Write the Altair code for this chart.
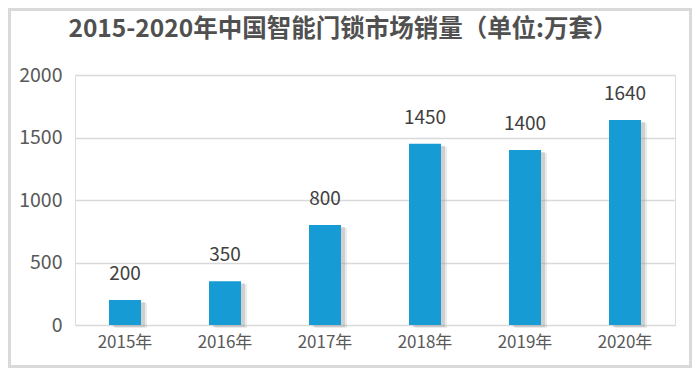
import altair as alt
import pandas as pd

years = ["2015年", "2016年", "2017年", "2018年", "2019年", "2020年"]
sales = [200, 350, 800, 1450, 1400, 1640]
y_ticks = [0, 500, 1000, 1500, 2000]
title_text = "2015-2020年中国智能门锁市场销量（单位:万套）"

df = pd.DataFrame({"year": years, "sales": sales})

FONT = "Noto Sans CJK SC"
BAR = "#169bd5"

x_enc = alt.X("year:N", sort=years, title=None,
              scale=alt.Scale(paddingInner=0.68, paddingOuter=0.34),
              axis=alt.Axis(labelAngle=0, labelFontSize=17, labelColor="#595959",
                            labelFont=FONT, ticks=False, domain=False, labelPadding=9))
y_enc = alt.Y("sales:Q", title=None,
              scale=alt.Scale(domain=[0, 2000], nice=False),
              axis=alt.Axis(values=y_ticks, format="d", labelFontSize=19.5, labelColor="#595959",
                            labelFont=FONT, ticks=False, domain=False, labelPadding=13,
                            gridColor="#d9d9d9", gridWidth=1.5))

base = alt.Chart(df)
one = base.transform_filter(alt.datum.year == "2015年")

border = one.mark_rect(fill=None, stroke="#d9d9d9", strokeWidth=3).encode(
    x=alt.value(-65.5), x2=alt.value(615.5), y=alt.value(-65.5), y2=alt.value(291.5))

title = one.mark_text(text=title_text, fontSize=24.5, font=FONT, fontWeight="bold",
                      color="#505050", baseline="middle", align="center").encode(
    x=alt.value(268), y=alt.value(-45))

shadow = base.mark_bar(color="#9a9a9a", opacity=0.35, xOffset=4, x2Offset=4, yOffset=2).encode(
    x=x_enc, y=y_enc)
shadow2 = base.mark_bar(color="#9a9a9a", opacity=0.2, xOffset=6, x2Offset=6, yOffset=3).encode(
    x=x_enc, y=y_enc)

bars = base.mark_bar(color=BAR).encode(x=x_enc, y=y_enc)

labels = base.mark_text(dy=-16, fontSize=19, color="#404040", font=FONT, baseline="bottom").encode(
    x=alt.X("year:N", sort=years), y="sales:Q", text="sales:Q")

chart = alt.layer(border, title, shadow2, shadow, bars, labels).properties(
    width=600, height=250,
    autosize=alt.AutoSizeParams(type="none"),
    padding={"left": 67, "top": 67, "right": 17, "bottom": 43},
).configure_view(stroke=None).configure(background="white")

chart.save("out.html", embed_options={"renderer": "svg", "actions": False})
